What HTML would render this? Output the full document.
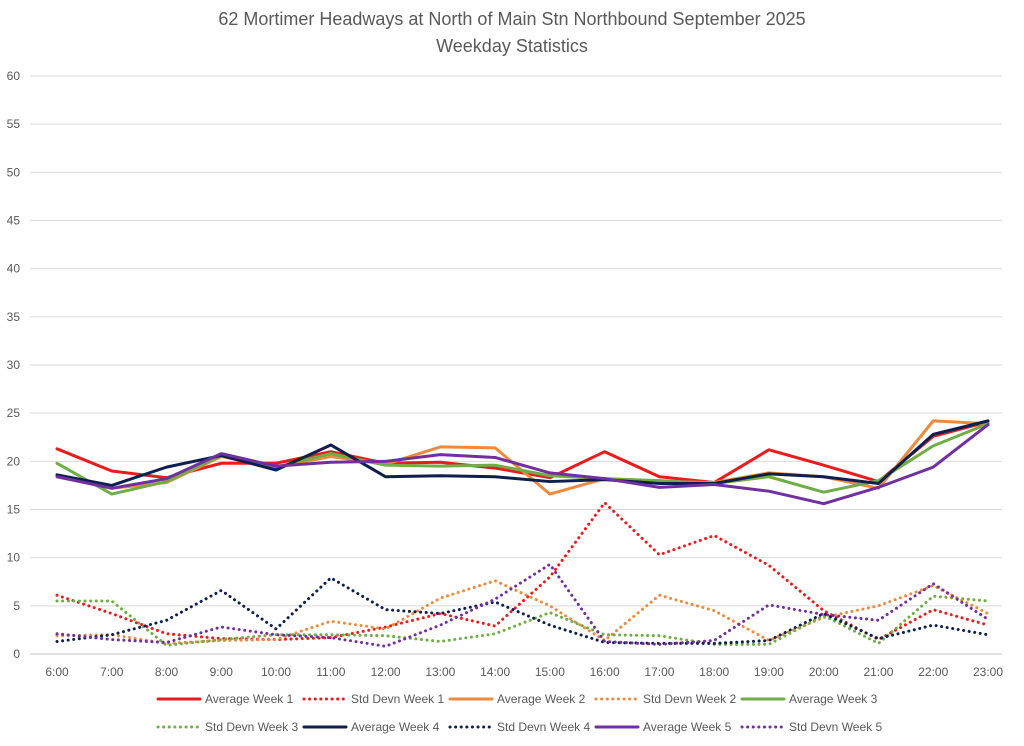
<!DOCTYPE html>
<html><head><meta charset="utf-8"><style>
body{margin:0;background:#fff;font-family:"Liberation Sans",sans-serif;}
</style></head><body>
<svg id="chart" width="1024" height="741" xmlns="http://www.w3.org/2000/svg" font-family="Liberation Sans, sans-serif">
<text x="512" y="25" text-anchor="middle" font-size="18" fill="#595959">62 Mortimer Headways at North of Main Stn Northbound September 2025</text>
<text x="512" y="52" text-anchor="middle" font-size="18" fill="#595959">Weekday Statistics</text>
<g id="grid"></g><g id="series"></g><g id="legend"></g>
</svg>
<script>
const categories=["6:00","7:00","8:00","9:00","10:00","11:00","12:00","13:00","14:00","15:00","16:00","17:00","18:00","19:00","20:00","21:00","22:00","23:00"];
const yTicks=[0,5,10,15,20,25,30,35,40,45,50,55,60];
const avgW1=[21.3,19.0,18.3,19.8,19.8,21.0,19.8,19.9,19.3,18.3,21.0,18.4,17.8,21.2,19.6,17.9,22.6,24.1];
const stdW1=[6.1,4.2,2.1,1.6,1.5,1.7,2.8,4.2,2.9,8.0,15.7,10.3,12.3,9.2,4.5,1.5,4.6,3.0];
const avgW2=[18.5,17.2,17.8,20.5,19.4,20.5,19.7,21.5,21.4,16.6,18.2,17.9,17.8,18.8,18.4,17.2,24.2,23.9];
const stdW2=[1.9,2.0,1.1,1.4,1.5,3.4,2.6,5.8,7.6,5.0,1.4,6.1,4.5,1.4,3.8,5.0,7.1,4.2];
const avgW3=[19.8,16.6,17.9,20.6,19.4,20.8,19.6,19.5,19.6,18.5,18.2,18.0,17.7,18.4,16.8,18.0,21.6,23.9];
const stdW3=[5.5,5.5,0.9,1.5,2.0,2.0,1.9,1.3,2.1,4.3,2.0,1.9,1.0,1.0,4.0,1.1,6.0,5.5];
const avgW4=[18.6,17.5,19.4,20.6,19.1,21.7,18.4,18.5,18.4,17.9,18.1,17.7,17.7,18.7,18.4,17.7,22.8,24.2];
const stdW4=[1.3,2.0,3.5,6.6,2.6,7.9,4.6,4.2,5.4,3.0,1.2,1.1,1.1,1.4,4.2,1.6,3.0,2.0];
const avgW5=[18.4,17.2,18.2,20.8,19.5,19.9,20.0,20.7,20.4,18.8,18.2,17.3,17.6,16.9,15.6,17.3,19.4,23.8];
const stdW5=[2.1,1.5,1.2,2.8,2.0,1.7,0.8,3.0,5.7,9.3,1.3,1.0,1.4,5.1,4.1,3.5,7.3,3.6];
const seriesNames=["Average Week 1","Std Devn Week 1","Average Week 2","Std Devn Week 2","Average Week 3","Std Devn Week 3","Average Week 4","Std Devn Week 4","Average Week 5","Std Devn Week 5"];
const seriesData=[avgW1,stdW1,avgW2,stdW2,avgW3,stdW3,avgW4,stdW4,avgW5,stdW5];
const colors=["#e81c1c","#e81c1c","#ed8a3e","#ed8a3e","#70ad47","#70ad47","#0e1f4f","#0e1f4f","#7030a0","#7030a0"];
const NS="http://www.w3.org/2000/svg";
const x0=57,x1=988,yBase=654,yTop=76,yMax=60;
const xs=i=>x0+i*(x1-x0)/(categories.length-1);
const ys=v=>yBase-v/yMax*(yBase-yTop);
function mk(tag,attrs,parent){const e=document.createElementNS(NS,tag);for(const k in attrs)e.setAttribute(k,attrs[k]);parent.appendChild(e);return e;}
const grid=document.getElementById('grid');
yTicks.forEach(t=>{
  const l=mk('line',{x1:30,x2:1002,y1:ys(t),y2:ys(t),stroke:t===0?'#bfbfbf':'#d9d9d9','stroke-width':1},grid);
  
  
  const tx=mk('text',{x:20,y:ys(t)+4,'text-anchor':'end','font-size':12,fill:'#595959'},grid);
  tx.textContent=t;
  
  
});
categories.forEach((c,i)=>{
  const tx=mk('text',{x:xs(i),y:676,'text-anchor':'middle','font-size':12,fill:'#595959'},grid);
  tx.textContent=c;
  
  
});
const sg=document.getElementById('series');
const order=[1,3,5,7,9,0,2,4,6,8];
order.forEach(s=>{
  const dotted=s%2===1;
  const pts=seriesData[s].map((v,i)=>xs(i)+','+ys(v)).join(' ');
  const p=mk('polyline',{points:pts,fill:'none',stroke:colors[s],'stroke-width':3,'stroke-linejoin':'round','stroke-linecap':'round','stroke-dasharray':dotted?'0.1 5.5':'none'},sg);
  
  
});
const lg=document.getElementById('legend');
seriesNames.forEach((n,s)=>{
  const row=s<5?0:1, col=s%5;
  const lx=158+col*146, ly=row?727:699;
  const g=mk('g',{},lg);
  
  
  mk('line',{x1:lx,x2:lx+42,y1:ly,y2:ly,stroke:colors[s],'stroke-width':3,'stroke-linecap':'round','stroke-dasharray':s%2?'0.1 5.5':'none'},g);
  const t=mk('text',{x:lx+47,y:ly+4,'font-size':12,fill:'#595959'},g);
  t.textContent=n;
});
</script>
</body></html>
